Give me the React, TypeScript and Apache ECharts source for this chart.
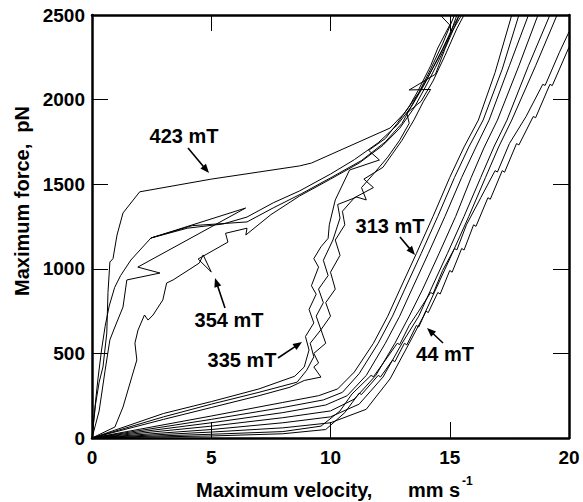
import React, { useEffect, useRef } from "react";
import * as echarts from "echarts";

// Axis ranges / ticks
const X_MIN = 0, X_MAX = 20, X_STEP = 5;
const Y_MIN = 0, Y_MAX = 2500, Y_STEP = 500;

// Curves: [velocity (mm/s), force (pN)]
const c423 = [[0,0],[0.15,200],[0.3,330],[0.46,420],[0.62,620],[0.67,860],[0.75,1040],[0.88,1060],[1.05,1200],[1.3,1330],[2.0,1455],[5.0,1530],[8.7,1608],[9.2,1625],[12.5,1832],[13.1,1920],[13.7,2040],[14.2,2180],[14.7,2330],[15.2,2500]];

const c354a = [[0,0],[0.3,160],[0.55,400],[0.75,580],[0.96,656],[1.3,774],[1.46,934],[2.85,975],[1.92,1010],[6.44,1359],[2.47,1182],[4.0,1240],[5.5,1265],[6.5,1306],[7.6,1390],[8.7,1460],[10.0,1560],[11.0,1645],[12.0,1745],[12.8,1850],[13.4,1960],[13.9,2080],[14.3,2190],[14.7,2300],[15.1,2420],[15.4,2500]];
const c354b = [[0,0],[0.96,65],[1.3,183],[1.67,361],[1.88,461],[1.8,561],[1.93,638],[2.2,727],[2.35,697],[2.56,727],[2.97,816],[3.13,916],[3.4,934],[4.5,1034],[4.66,1082],[5.0,981],[4.45,1058],[5.7,1158],[5.6,1210],[6.5,1240],[6.45,1200],[7.5,1320],[8.7,1430],[10.0,1530],[11.2,1625],[12.2,1730],[12.9,1830],[13.5,1950],[14.0,2080],[14.4,2190],[14.9,2340],[15.3,2500]];
const c354c = [[0,0],[0.1,150],[0.25,350],[0.4,520],[0.55,660],[0.72,780],[0.95,890],[1.2,960],[1.63,1052],[2.47,1182],[4.2,1255],[6.5,1277],[7.6,1360],[8.8,1445],[10.1,1545],[11.3,1640],[12.3,1750],[13.0,1860],[13.5,1990],[14.0,2110],[14.5,2240],[15.0,2380],[15.5,2500]];

const c335a = [[0,0],[3,145],[5,215],[7,290],[8.5,365],[8.9,420],[9.1,520],[8.95,600],[9.3,680],[9.1,760],[9.4,850],[9.2,900],[9.5,1010],[9.3,1060],[9.6,1130],[9.9,1180],[9.95,1260],[10.2,1407],[10.8,1584],[12.05,1643],[11.6,1700],[12.3,1770],[12.8,1860],[13.3,1960],[13.7,2060],[14.2,2200],[14.5,2305],[15.0,2441],[14.6,2500]];
const c335b = [[0,0],[3,125],[5,200],[7,270],[8.6,330],[9.0,400],[9.3,480],[9.15,560],[9.6,640],[9.4,720],[9.7,800],[9.5,880],[9.9,960],[9.7,1050],[10.1,1170],[10.4,1300],[10.3,1380],[11.1,1424],[11.5,1407],[11.3,1480],[11.8,1560],[12.4,1660],[12.9,1760],[13.3,1860],[13.2,1920],[13.8,1990],[14.3,2110],[14.8,2260],[15.3,2420],[15.6,2500]];
const c335c = [[0,0],[3,110],[5,180],[7,250],[8.3,300],[8.9,340],[9.6,360],[9.3,420],[9.5,443],[9.3,500],[9.8,560],[9.6,640],[10.0,720],[9.8,800],[10.2,880],[10.0,980],[10.4,1080],[10.2,1170],[10.6,1260],[10.5,1340],[11.0,1420],[11.8,1480],[11.4,1530],[12.2,1600],[12.6,1680],[13.0,1760],[13.5,1880],[13.9,1990],[14.2,2060],[13.3,2057],[14.4,2150],[14.8,2300],[15.2,2430],[15.4,2500]];

const c313a = [[0,0],[5,130],[8,210],[9.5,250],[10.3,290],[11,390],[11.8,560],[12.4,720],[12.9,875],[13.6,1090],[14.3,1310],[15,1540],[15.6,1720],[16.2,1879],[16.9,2160],[17.6,2500]];
const c313b = [[0,0],[5,110],[8,180],[9.7,225],[10.5,270],[11.2,380],[12,560],[12.6,720],[13.1,875],[13.8,1090],[14.5,1310],[15.2,1540],[15.8,1720],[16.4,1879],[17.2,2180],[17.9,2500]];
const c313c = [[0,0],[5,90],[8,150],[9.8,195],[10.7,250],[11.5,370],[12.3,560],[12.9,720],[13.4,875],[14.1,1090],[14.8,1310],[15.5,1540],[16.1,1720],[16.65,1879],[17.5,2200],[18.3,2500]];
const c313d = [[0,0],[5,70],[8,120],[10,160],[11,230],[11.9,370],[12.7,560],[13.3,720],[13.85,875],[14.55,1090],[15.25,1310],[15.9,1540],[16.45,1720],[17.0,1879],[17.9,2200],[18.7,2500]];
const c313e = [[0,0],[5,50],[8,90],[10,125],[11.2,200],[12.2,360],[13.0,560],[13.7,720],[14.2,875],[14.9,1090],[15.6,1310],[16.3,1540],[16.85,1720],[17.4,1879],[18.3,2200],[19.2,2500]];
const c313f = [[0,0],[5,35],[8,60],[10,90],[11.5,170],[12.5,350],[13.3,560],[13.9,720],[14.4,875],[15.1,1090],[15.8,1310],[16.5,1540],[17.05,1720],[17.6,1879],[18.6,2200],[19.5,2500]];

const c44a = [[0,0],[5,22],[8,38],[9.6,70],[10.4,160],[10.9,260],[11.7,370],[11.8,362],[12.3,460],[12.8,560],[12.9,552],[13.3,665],[13.7,750],[14.2,860],[14.3,852],[14.7,990],[15.2,1120],[15.3,1112],[15.7,1260],[16.3,1420],[16.9,1580],[17.0,1572],[17.5,1740],[18.2,1900],[18.9,2090],[19.0,2084],[19.6,2280],[20,2400]];
const c44b = [[0,0],[5,12],[8,25],[9.8,50],[10.6,150],[11.2,265],[11.3,257],[12.0,370],[12.1,361],[12.6,460],[12.7,451],[13.1,560],[13.2,550],[13.6,665],[13.7,656],[14.0,750],[14.1,741],[14.5,860],[14.6,851],[15.0,990],[15.1,980],[15.5,1120],[15.6,1111],[16.0,1260],[16.1,1251],[16.6,1420],[16.7,1411],[17.2,1580],[17.3,1571],[17.8,1740],[17.9,1732],[18.5,1900],[18.6,1893],[19.2,2090],[19.3,2083],[20,2310]];

const curves = [c423, c354a, c354b, c354c, c335a, c335b, c335c, c313a, c313b, c313c, c313d, c313e, c313f, c44a, c44b];

// Annotation labels
const labels = ["423 mT", "354 mT", "335 mT", "313 mT", "44 mT"];

const FONT = '"Liberation Sans", Arial, Helvetica, sans-serif';

// annotation placement (pixel positions in the 583x502 canvas)
const labelPos = [[184, 136], [229, 320], [242, 360], [390, 226], [445, 354]];
const arrowPos = [
  [188, 148, 209, 173],
  [225, 308, 215, 278],
  [278, 358, 302, 342],
  [400, 237, 415, 255],
  [443, 343, 427, 328],
];

function arrow(x1: number, y1: number, x2: number, y2: number) {
  const dx = x2 - x1, dy = y2 - y1;
  const len = Math.sqrt(dx * dx + dy * dy);
  const ux = dx / len, uy = dy / len;
  const hl = 9, hw = 3.6;
  const bx = x2 - ux * hl, by = y2 - uy * hl;
  const px = -uy, py = ux;
  return [
    {
      type: "line",
      shape: { x1, y1, x2: bx + ux * 2, y2: by + uy * 2 },
      style: { stroke: "#000", lineWidth: 1.6 },
      silent: true,
    },
    {
      type: "polygon",
      shape: {
        points: [
          [x2, y2],
          [bx + px * hw, by + py * hw],
          [bx - px * hw, by - py * hw],
        ],
      },
      style: { fill: "#000" },
      silent: true,
    },
  ];
}

export default function App() {
  const ref = useRef<HTMLDivElement>(null);
  useEffect(() => {
    if (!ref.current) return;
    const chart = echarts.init(ref.current, undefined, { renderer: "svg" });
    const axisLine = { show: true, onZero: false, lineStyle: { color: "#000", width: 2.5 } };
    const axisTick = { show: true, inside: true, length: 16, lineStyle: { color: "#000", width: 1 } };
    const labelStyle = {
      color: "#000", fontSize: 19, fontWeight: "bold", fontFamily: FONT,
      formatter: (v: number) => String(v),
    };

    const graphics: any[] = [];
    labels.forEach((t, i) => {
      graphics.push({
        type: "text",
        x: labelPos[i][0],
        y: labelPos[i][1],
        silent: true,
        style: { text: t, fill: "#000", font: `bold 20px ${FONT}`, align: "center", verticalAlign: "middle" },
      });
      const a = arrowPos[i];
      graphics.push(...arrow(a[0], a[1], a[2], a[3]));
    });
    // axis titles
    graphics.push({
      type: "text",
      x: 22,
      y: 201,
      rotation: Math.PI / 2,
      silent: true,
      style: { text: "Maximum force,  pN", fill: "#000", font: `bold 20px ${FONT}`, align: "center", verticalAlign: "middle" },
    });
    graphics.push({
      type: "text",
      x: 196,
      y: 490,
      silent: true,
      style: { text: "Maximum velocity,", fill: "#000", font: `bold 20px ${FONT}`, align: "left", verticalAlign: "middle" },
    });
    graphics.push({
      type: "text",
      x: 408,
      y: 490,
      silent: true,
      style: { text: "mm s", fill: "#000", font: `bold 20px ${FONT}`, align: "left", verticalAlign: "middle" },
    });
    graphics.push({
      type: "text",
      x: 462,
      y: 481,
      silent: true,
      style: { text: "-1", fill: "#000", font: `bold 12px ${FONT}`, align: "left", verticalAlign: "middle" },
    });

    chart.setOption({
      animation: false,
      backgroundColor: "#fff",
      grid: { left: 92, right: 14, top: 15, bottom: 64, containLabel: false },
      xAxis: [
        {
          type: "value", position: "bottom", min: X_MIN, max: X_MAX, interval: X_STEP,
          axisLine, axisTick, axisLabel: { ...labelStyle, margin: 10 }, splitLine: { show: false },
        },
        {
          type: "value", position: "top", min: X_MIN, max: X_MAX, interval: X_STEP,
          axisLine, axisTick, axisLabel: { show: false }, splitLine: { show: false },
        },
      ],
      yAxis: [
        {
          type: "value", position: "left", min: Y_MIN, max: Y_MAX, interval: Y_STEP,
          axisLine, axisTick, axisLabel: { ...labelStyle, margin: 7 }, splitLine: { show: false },
        },
        {
          type: "value", position: "right", min: Y_MIN, max: Y_MAX, interval: Y_STEP,
          axisLine, axisTick, axisLabel: { show: false }, splitLine: { show: false },
        },
      ],
      series: curves.map((d) => ({
        type: "line",
        data: d,
        xAxisIndex: 0,
        yAxisIndex: 0,
        symbol: "none",
        showSymbol: false,
        silent: true,
        clip: true,
        lineStyle: { color: "#000", width: 1 },
      })),
      graphic: graphics,
    });
    return () => chart.dispose();
  }, []);
  return (
    <div
      ref={ref}
      style={{ position: "fixed", left: 0, top: 0, width: 583, height: 502, background: "#fff" }}
    />
  );
}
